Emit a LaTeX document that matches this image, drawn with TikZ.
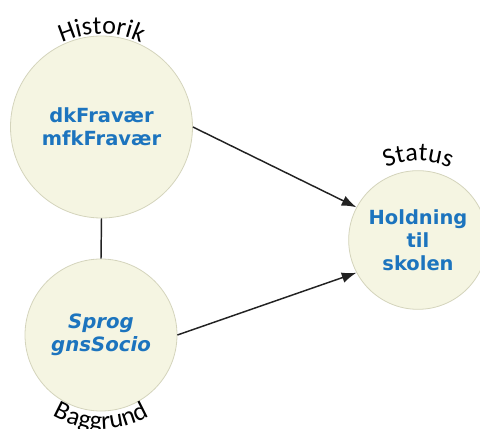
\documentclass[tikz,border=0pt]{standalone}
\usepackage{fontspec}
\usepackage{tikz}
\usetikzlibrary{arrows.meta,decorations.text}
\newfontfamily\lblfont{Carlito}
\newfontfamily\varfont{DejaVu Sans}
\definecolor{circfill}{RGB}{245,245,226}
\definecolor{circrim}{RGB}{212,212,188}
\definecolor{varblue}{RGB}{28,116,190}
\definecolor{pilgray}{RGB}{34,34,34}
\newcommand{\lblsize}{\lblfont\fontsize{19.5}{22}\selectfont}

\begin{document}
\begin{tikzpicture}[x=0.75pt,y=0.75pt,
  varcirc/.style={circle,draw=circrim,line width=0.6pt,fill=circfill,inner sep=0pt,align=center,text=varblue,
    font=\varfont\bfseries\fontsize{14.6}{17.3}\selectfont},
  pil/.style={-{Latex[length=11pt,width=8pt]},line width=1.1pt,draw=pilgray}]
  \useasboundingbox (0,0) rectangle (480,429);

  % the three circles
  \node[varcirc,minimum size=136.5pt] (hist) at (101.5,302) {dkFravær\\mfkFravær};
  \node[varcirc,minimum size=114pt,font=\varfont\bfseries\itshape\fontsize{14.8}{17.3}\selectfont] (bag) at (101,94) {Sprog\\gnsSocio};
  \node[varcirc,minimum size=104pt] (status) at (418,189) {Holdning\\til\\skolen};

  % connectors
  \draw[line width=1.1pt,draw=pilgray] (hist.south) -- (bag.north);
  \draw[pil] (hist.east) -- (status.152);
  \draw[pil] (bag.east) -- (status.208);

  % curved labels
  \path[decorate,decoration={text along path,text align=center,text={|\lblsize|Historik}}]
    (hist.center) ++(150:69.75pt) arc[start angle=150,end angle=30,radius=69.75pt];
  \path[decorate,decoration={text along path,text align=center,text={|\lblsize|Status}}]
    (status.center) ++(150:59.25pt) arc[start angle=150,end angle=30,radius=59.25pt];
  \path[decorate,decoration={text along path,text align=center,text={|\lblsize|Baggrund}}]
    (bag.center) ++(210:70.5pt) arc[start angle=210,end angle=330,radius=70.5pt];
\end{tikzpicture}
\end{document}
